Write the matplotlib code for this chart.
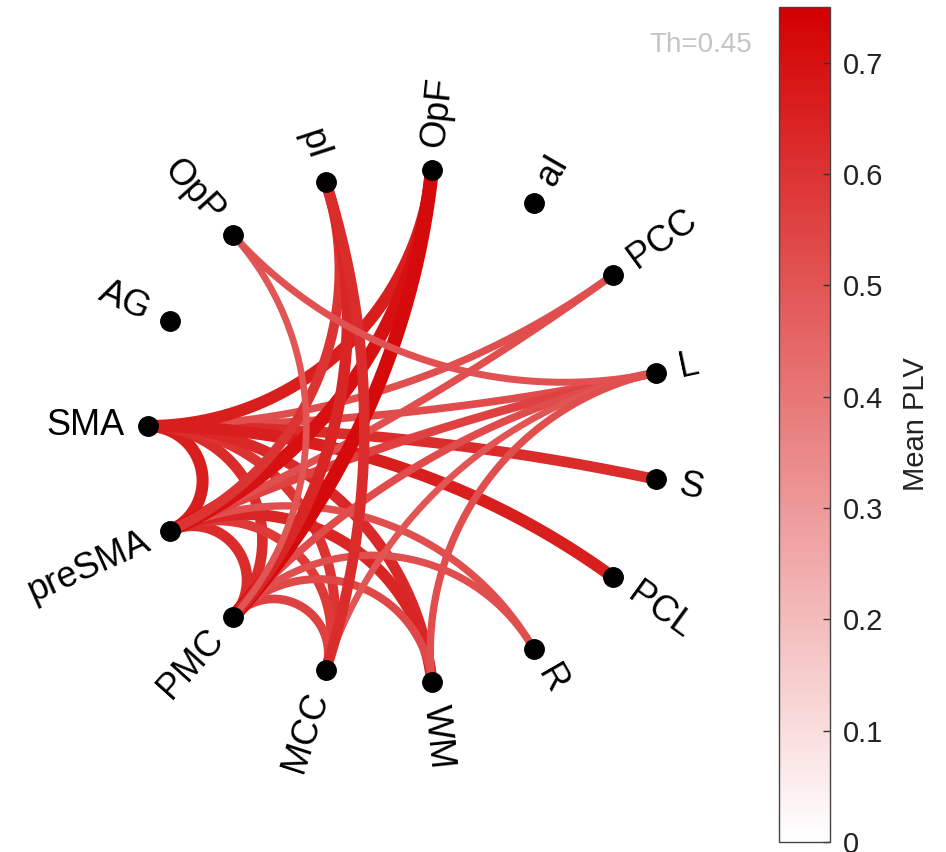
import numpy as np
import matplotlib
matplotlib.use("Agg")
import matplotlib.pyplot as plt
from matplotlib.colors import LinearSegmentedColormap, Normalize
from matplotlib.cm import ScalarMappable

plt.rcParams['font.family'] = ['Liberation Sans', 'DejaVu Sans']

# ---- data ----
nodes = ["L", "PCC", "aI", "OpF", "pI", "OpP", "AG", "SMA", "preSMA",
         "PMC", "MCC", "WM", "R", "PCL", "S"]
edge_src = ["SMA", "SMA", "SMA", "SMA", "SMA", "SMA", "SMA", "SMA", "SMA",
            "preSMA", "preSMA", "preSMA", "preSMA", "preSMA", "preSMA", "preSMA", "preSMA",
            "PMC", "PMC", "PMC", "PMC", "PMC", "PMC", "PMC",
            "MCC", "MCC", "WM", "OpP"]
edge_dst = ["preSMA", "PMC", "MCC", "WM", "L", "S", "PCC", "PCL", "OpF",
            "PMC", "MCC", "WM", "R", "L", "PCC", "OpF", "pI",
            "MCC", "WM", "R", "L", "OpF", "pI", "OpP",
            "L", "pI", "L", "L"]
edge_plv = [0.66, 0.62, 0.60, 0.63, 0.53, 0.62, 0.52, 0.66, 0.66,
            0.62, 0.58, 0.64, 0.52, 0.56, 0.52, 0.70, 0.60,
            0.56, 0.54, 0.52, 0.53, 0.72, 0.64, 0.50,
            0.50, 0.62, 0.52, 0.51]
cbar_ticks = [0, 0.1, 0.2, 0.3, 0.4, 0.5, 0.6, 0.7]
vmin, vmax = 0.0, 0.75
threshold = 0.45

# ---- figure ----
W, H = 946, 852
fig = plt.figure(figsize=(W / 100, H / 100), dpi=100)
cx, cy, rad = 405, 426, 257
a = 1.6
span = 2 * a * rad
ax = fig.add_axes([cx / W - span / 2 / W, (H - cy) / H - span / 2 / H, span / W, span / H])
ax.set_xlim(-a, a)
ax.set_ylim(-a, a)
ax.set_aspect('equal')
ax.axis('off')

cmap = LinearSegmentedColormap.from_list("wr", [(1, 1, 1), (0.83, 0.0, 0.0)])
norm = Normalize(vmin, vmax)

ang = {name: np.deg2rad(12 + 24 * i) for i, name in enumerate(nodes)}


def arc_pts(t1, t2, npts=150):
    u1 = np.array([np.cos(t1), np.sin(t1)])
    u2 = np.array([np.cos(t2), np.sin(t2)])
    d = np.arccos(np.clip(u1 @ u2, -1, 1))
    if d > np.deg2rad(175):
        return np.linspace(u1[0], u2[0], npts), np.linspace(u1[1], u2[1], npts)
    c = (u1 + u2) / (1 + np.cos(d))
    r = np.tan(d / 2)
    a1 = np.arctan2(u1[1] - c[1], u1[0] - c[0])
    a2 = np.arctan2(u2[1] - c[1], u2[0] - c[0])
    da = (a2 - a1 + np.pi) % (2 * np.pi) - np.pi
    tt = a1 + np.linspace(0, da, npts)
    return c[0] + r * np.cos(tt), c[1] + r * np.sin(tt)


for s, d, v in zip(edge_src, edge_dst, edge_plv):
    x, y = arc_pts(ang[s], ang[d])
    lw = 3.6 + (v - threshold) * 24
    ax.plot(x, y, color=cmap(norm(v)), lw=lw, solid_capstyle='round', zorder=2)

for name in nodes:
    t = ang[name]
    ax.plot(np.cos(t), np.sin(t), 'o', color='black', ms=14, zorder=5)
    deg = np.rad2deg(t) % 360
    off = 1.09
    if 90 < deg < 270:
        rot, ha = deg - 180, 'right'
    else:
        rot, ha = (deg if deg <= 90 else deg - 360), 'left'
    ax.text(off * np.cos(t), off * np.sin(t), name, rotation=rot, ha=ha, va='center',
            rotation_mode='anchor', fontsize=26, color='black', zorder=6)

fig.text(752 / W, 1 - 45 / H, "Th=%.2f" % threshold, ha='right', va='center',
         fontsize=20, color='#c4c4c4')

# ---- colorbar ----
cax = fig.add_axes([779 / W, 1 - 842 / H, 51 / W, 835 / H])
sm = ScalarMappable(norm=norm, cmap=cmap)
cb = fig.colorbar(sm, cax=cax, ticks=cbar_ticks)
cb.ax.set_yticklabels([("%g" % t) for t in cbar_ticks])
cb.ax.tick_params(direction='in', length=5, width=1, color='#333333',
                  labelsize=21, labelcolor='#222222', pad=9)
cb.outline.set_edgecolor('#444444')
cb.outline.set_linewidth(1)
cb.set_label("Mean PLV", fontsize=21, color='#222222', labelpad=14)

fig.savefig("out.png", dpi=100, facecolor='white')
